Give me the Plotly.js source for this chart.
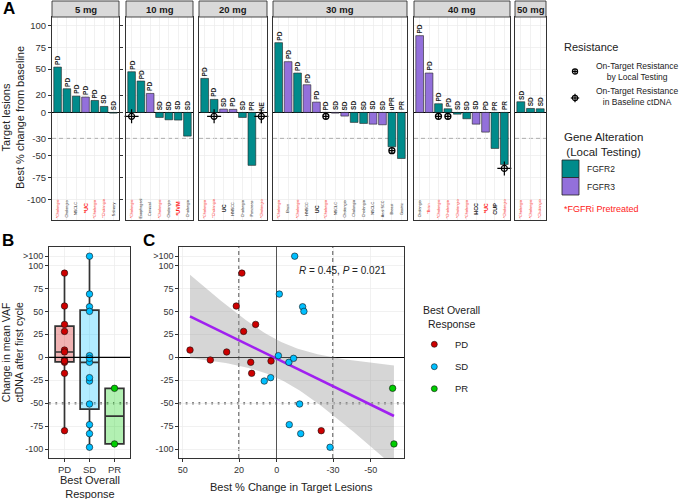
<!DOCTYPE html>
<html><head><meta charset="utf-8">
<script src="https://cdn.plot.ly/plotly-3.0.1.min.js"></script>
<style>html,body{margin:0;padding:0;background:#fff}#chart{width:680px;height:499px}</style>
</head><body><div id="chart"></div>
<script>
// ================= DATA =================
// Panel A: best % change in target lesions, by dose level
const doseLabels = ['5 mg', '10 mg', '20 mg', '30 mg', '40 mg', '50 mg'];

const change5  = [52.3, 27.3, 18.8, 17.7, 13.8, 6.9, -0.8];
const resp5    = ['PD', 'PD', 'PD', 'PD', 'PD', 'SD', 'SD'];
const gene5    = ['FGFR2', 'FGFR2', 'FGFR2', 'FGFR3', 'FGFR2', 'FGFR2', 'FGFR2'];
const tumor5   = ['*Cholangio', 'Cholangio', 'NSCLC', '*UC', '*Cholangio', '*Cholangio', 'Salivary'];
const resist5  = ['', '', '', '', '', '', ''];

const change10 = [46.9, 36.2, 21.9, -5.8, -8.5, -8.8, -27.3];
const resp10   = ['PD', 'PD', 'PD', 'SD', 'SD', 'SD', 'SD'];
const gene10   = ['FGFR2', 'FGFR2', 'FGFR3', 'FGFR2', 'FGFR2', 'FGFR2', 'FGFR2'];
const tumor10  = ['*Cholangio', 'Esophageal', 'Cervical', '*Cholangio', 'Cholangio', '*UVM', 'Cholangio'];
const resist10 = ['ctDNA', '', '', '', '', '', ''];

const change20 = [39.2, 15.0, 3.8, 3.5, -5.8, -61.0, 0];
const resp20   = ['PD', 'PD', 'SD', 'PD', 'SD', 'PR', 'NE'];
const gene20   = ['FGFR2', 'FGFR2', 'FGFR3', 'FGFR3', 'FGFR2', 'FGFR2', 'FGFR2'];
const tumor20  = ['*Cholangio', '*Cholangio', 'UC', 'HNSCC', 'Cholangio', 'Pancreas', '*Cholangio'];
const resist20 = ['', 'ctDNA', '', '', '', '', 'ctDNA'];

const change30 = [80.4, 58.5, 45.4, 31.9, 11.9, 0, -0.8, -4.2, -11.5, -12.7, -13.5, -14.2, -39.6, -53.1];
const resp30   = ['PD', 'PD', 'PD', 'PD', 'PD', 'PD', 'SD', 'SD', 'SD', 'SD', 'SD', 'SD', 'uPR', 'PR'];
const gene30   = ['FGFR2', 'FGFR3', 'FGFR2', 'FGFR3', 'FGFR3', 'FGFR2', 'FGFR3', 'FGFR3', 'FGFR2', 'FGFR2', 'FGFR3', 'FGFR3', 'FGFR2', 'FGFR2'];
const tumor30  = ['*Cholangio', 'Brain', '*Cholangio', 'HNSCC', 'UC', '*Cholangio', 'NSCLC', 'Cholangio', 'Cholangio', 'Cholangio', 'NSCLC', 'Anal SCC', 'Breast', 'Gastric'];
const resist30 = ['', '', '', '', '', 'local', '', '', '', '', '', '', 'local', ''];

const change40 = [88.5, 45.4, 10.0, 4.2, -2.0, -7.3, -13.5, -22.7, -41.5, -60.0];
const resp40   = ['PD', 'PD', 'PD', 'PD', 'SD', 'SD', 'SD', 'PD', 'PR', 'PR'];
const gene40   = ['FGFR3', 'FGFR3', 'FGFR2', 'FGFR2', 'FGFR2', 'FGFR2', 'FGFR3', 'FGFR3', 'FGFR2', 'FGFR2'];
const tumor40  = ['Cholangio', '*Brain', '*Cholangio', '*Cholangio', '*Cholangio', '*Cholangio', 'HCC', '*UC', 'CUP', '*Cholangio'];
const resist40 = ['', '', 'local', 'local', '', '', '', '', '', 'ctDNA'];

const change50 = [12.3, 4.6, 4.2];
const resp50   = ['SD', 'SD', 'SD'];
const gene50   = ['FGFR2', 'FGFR2', 'FGFR2'];
const tumor50  = ['*Cholangio', '*Cholangio', '*Cholangio'];
const resist50 = ['', '', ''];

const yTicksA = [100, 75, 50, 20, 0, -30, -50, -75, -100];

// Panels B and C: best % change in target lesions (x) vs change in mean VAF ctDNA (y), by best overall response
const responseCats = ['PD', 'SD', 'PR'];
const pdLesion = [46.1, 35.3, 26.6, 21.5, 17.6, 11.2, 13.8, 13.3, 3.0, 18.5, -23.7];
const pdVaf    = [7.9, -2.9, 5.8, 55.8, 28.2, 35.8, -5.4, -17.4, -4.0, 91.6, -79.8];
const sdLesion = [-9.6, -1.4, -13.8, -14.5, -0.9, -6.5, -9.0, 6.6, 3.2, -12.2, -6.7, -12.8, -28.4];
const sdVaf    = [110, 68.8, 55, 50, 1.8, -5.4, -1.1, -25.8, -22.1, -50.8, -73.2, -83, -97.8];
const prLesion = [-61.7, -62.4];
const prVaf    = [-33.7, -94.2];

const yTicksBC = [-100, -75, -50, -25, 0, 25, 50, 75, 100, 110];
const yTickTextBC = ['-100', '-75', '-50', '-25', '0', '25', '50', '75', '100', '>100'];
const xTicksC = [50, 20, 0, -30, -50];
const corrLabel = '<i>R</i> = 0.45, <i>P</i> = 0.021';

// ================= STYLE / LAYOUT =================
const W = 680, H = 499;
const px = v => v / W, py = v => 1 - v / H;
const FONT = 'Liberation Sans, Arial, Helvetica, sans-serif';
const geneColors = {FGFR2: '#008B8B', FGFR3: '#9370DB'};
const respColors = {PD: '#CD0000', SD: '#00BFFF', PR: '#00CD00'};
const boxFills = {PD: 'rgba(205,0,0,0.3)', SD: 'rgba(0,191,255,0.3)', PR: 'rgba(0,205,0,0.3)'};
const DOTS = '1.8px,4.6px';
const DASHES = '4px,3px';

const panelsA = [
  {change: change5,  resp: resp5,  gene: gene5,  tumor: tumor5,  resist: resist5},
  {change: change10, resp: resp10, gene: gene10, tumor: tumor10, resist: resist10},
  {change: change20, resp: resp20, gene: gene20, tumor: tumor20, resist: resist20},
  {change: change30, resp: resp30, gene: gene30, tumor: tumor30, resist: resist30},
  {change: change40, resp: resp40, gene: gene40, tumor: tumor40, resist: resist40},
  {change: change50, resp: resp50, gene: gene50, tumor: tumor50, resist: resist50}
];
const domA = [[52, 119], [126, 193], [199, 267], [273, 407], [414, 510], [515, 546]];

const traces = [];
const annotations = [];
const shapes = [];
const layout = {
  width: W, height: H, margin: {l: 0, r: 0, t: 0, b: 0},
  paper_bgcolor: '#fff', plot_bgcolor: '#fff',
  font: {family: FONT, color: '#222', size: 10},
  showlegend: false,
  bargap: 0,
  yaxis: {
    domain: [py(220), py(17)], range: [-124, 110], anchor: 'x',
    tickvals: yTicksA, ticktext: yTicksA.map(String),
    ticks: 'outside', ticklen: 3, tickcolor: '#333', tickfont: {size: 9.5, color: '#333'},
    showgrid: true, gridcolor: '#ebebeb', gridwidth: 0.7,
    zeroline: true, zerolinecolor: '#000', zerolinewidth: 1,
    showline: true, mirror: 'all', linecolor: '#333', linewidth: 1, fixedrange: true
  }
};

panelsA.forEach((d, i) => {
  const ax = i === 0 ? 'x' : 'x' + (i + 1);
  const axKey = i === 0 ? 'xaxis' : 'xaxis' + (i + 1);
  const n = d.change.length;
  const idx = d.change.map((_, k) => k + 1);
  layout[axKey] = {
    domain: [px(domA[i][0]), px(domA[i][1])], range: [0.4, n + 0.6], anchor: 'y',
    tickvals: idx, showticklabels: false, ticks: '',
    showgrid: true, gridcolor: '#ebebeb', gridwidth: 0.7, zeroline: false,
    showline: true, mirror: true, linecolor: '#333', linewidth: 1, fixedrange: true
  };
  traces.push({
    type: 'bar', x: idx, y: d.change, xaxis: ax, yaxis: 'y', width: 0.82,
    marker: {color: d.gene.map(g => geneColors[g]), line: {color: '#222', width: 0.6}},
    hoverinfo: 'skip', showlegend: false
  });
  // resistance markers
  const locX = [], locY = [], ctX = [], ctY = [];
  d.resist.forEach((r, k) => {
    const yy = Math.min(d.change[k], 0) - 4.5;
    if (r === 'local') { locX.push(k + 1); locY.push(yy); }
    if (r === 'ctDNA') { ctX.push(k + 1); ctY.push(yy); }
  });
  if (locX.length) traces.push({type: 'scatter', mode: 'markers', x: locX, y: locY, xaxis: ax, yaxis: 'y',
    marker: {symbol: 'circle-cross-open', size: 6, color: '#000', line: {width: 1.3, color: '#000'}}, hoverinfo: 'skip', cliponaxis: false});
  if (ctX.length) {
    traces.push({type: 'scatter', mode: 'markers', x: ctX, y: ctY, xaxis: ax, yaxis: 'y',
      marker: {symbol: 'circle-open', size: 6, color: '#000', line: {width: 1.2, color: '#000'}}, hoverinfo: 'skip', cliponaxis: false});
    traces.push({type: 'scatter', mode: 'markers', x: ctX, y: ctY, xaxis: ax, yaxis: 'y',
      marker: {symbol: 'cross-thin-open', size: 10, color: '#000', line: {width: 1.2, color: '#000'}}, hoverinfo: 'skip', cliponaxis: false});
  }
  // response labels
  d.resp.forEach((r, k) => {
    const base = Math.max(d.change[k], 0);
    annotations.push({xref: ax, yref: 'y', x: k + 1, y: base + 2.5 + r.length * 2.6, text: r, textangle: -90,
      showarrow: false, xanchor: 'center', yanchor: 'middle', font: {size: 6.5, color: '#222', weight: 'bold'}});
  });
  // tumor type labels
  d.tumor.forEach((t, k) => {
    const red = t.startsWith('*');
    const short = t.replace('*', '').length <= 3;
    annotations.push({xref: ax, yref: 'y', x: k + 1, y: -111, text: t, textangle: -90,
      showarrow: false, xanchor: 'center', yanchor: 'middle',
      font: {size: short ? 5.5 : 3.8, color: red ? '#ff1a1a' : '#222', weight: short ? 'bold' : 'normal'}});
  });
  // dashed -30 line
  shapes.push({type: 'line', xref: ax + ' domain', yref: 'y', x0: 0, x1: 1, y0: -30, y1: -30,
    line: {color: '#333', width: 1, dash: DASHES}, layer: 'below'});
  // facet strip
  shapes.push({type: 'rect', xref: ax + ' domain', yref: 'paper', x0: 0, x1: 1, y0: py(17), y1: py(1),
    fillcolor: '#d9d9d9', line: {color: '#333', width: 0.9}});
  annotations.push({xref: ax + ' domain', yref: 'paper', x: 0.5, y: py(9), text: doseLabels[i], showarrow: false,
    xanchor: 'center', yanchor: 'middle', font: {size: 9.5, color: '#1a1a1a', weight: 'bold'}});
});

// ---------- Panel B ----------
layout.xaxis7 = {
  domain: [px(49), px(130)], anchor: 'y2', type: 'category', categoryorder: 'array', categoryarray: responseCats,
  range: [-0.62, 2.62], ticks: 'outside', ticklen: 3, tickcolor: '#333', tickfont: {size: 9.5, color: '#333'},
  showgrid: true, gridcolor: '#ebebeb', gridwidth: 0.7, showline: true, mirror: true, linecolor: '#333', linewidth: 1, fixedrange: true
};
layout.yaxis2 = {
  domain: [py(458), py(247)], anchor: 'x7', range: [-109.5, 120],
  tickvals: yTicksBC, ticktext: yTickTextBC, ticks: 'outside', ticklen: 3, tickcolor: '#333', tickfont: {size: 9, color: '#333'},
  showgrid: true, gridcolor: '#ebebeb', gridwidth: 0.7, zeroline: false,
  showline: true, mirror: true, linecolor: '#333', linewidth: 1, fixedrange: true
};
const vafByResp = {PD: pdVaf, SD: sdVaf, PR: prVaf};
const lesionByResp = {PD: pdLesion, SD: sdLesion, PR: prLesion};
responseCats.forEach(c => {
  traces.push({type: 'box', x: vafByResp[c].map(() => c), y: vafByResp[c], xaxis: 'x7', yaxis: 'y2',
    fillcolor: boxFills[c], line: {color: '#333', width: 1.7}, boxpoints: false, whiskerwidth: 0, width: 0.75,
    hoverinfo: 'skip', showlegend: false});
});
responseCats.forEach(c => {
  traces.push({type: 'scatter', mode: 'markers', x: vafByResp[c].map(() => c), y: vafByResp[c], xaxis: 'x7', yaxis: 'y2',
    marker: {size: 6.5, color: respColors[c], line: {color: '#111', width: 0.6}}, hoverinfo: 'skip', cliponaxis: false});
});
shapes.push({type: 'line', xref: 'x7 domain', yref: 'y2', x0: 0, x1: 1, y0: 0, y1: 0,
  line: {color: '#000', width: 1.3}, layer: 'above'});
shapes.push({type: 'line', xref: 'x7 domain', yref: 'y2', x0: 0, x1: 1, y0: -50, y1: -50,
  line: {color: '#000', width: 1.8, dash: DOTS}, layer: 'below'});

// ---------- Panel C ----------
layout.xaxis8 = {
  domain: [px(179.3), px(404.3)], anchor: 'y3', range: [51.8, -67.9],
  tickvals: xTicksC, ticktext: xTicksC.map(String), ticks: 'outside', ticklen: 3, tickcolor: '#333', tickfont: {size: 9, color: '#333'},
  showgrid: true, gridcolor: '#ebebeb', gridwidth: 0.7, zeroline: true, zerolinecolor: '#555', zerolinewidth: 1.3,
  showline: true, mirror: true, linecolor: '#333', linewidth: 1, fixedrange: true
};
layout.yaxis3 = {
  domain: [py(458), py(247)], anchor: 'x8', range: [-109.5, 120],
  tickvals: yTicksBC, ticktext: yTickTextBC, ticks: 'outside', ticklen: 3, tickcolor: '#333', tickfont: {size: 9, color: '#333'},
  showgrid: true, gridcolor: '#ebebeb', gridwidth: 0.7, zeroline: true, zerolinecolor: '#000', zerolinewidth: 1.3,
  showline: true, mirror: true, linecolor: '#333', linewidth: 1, fixedrange: true
};
// linear fit with 95% confidence band, computed from the data
const allX = pdLesion.concat(sdLesion, prLesion);
const allY = pdVaf.concat(sdVaf, prVaf);
const n = allX.length;
const mx = allX.reduce((a, b) => a + b, 0) / n;
const my = allY.reduce((a, b) => a + b, 0) / n;
let sxx = 0, sxy = 0;
allX.forEach((x, i) => { sxx += (x - mx) * (x - mx); sxy += (x - mx) * (allY[i] - my); });
const slope = sxy / sxx, icpt = my - slope * mx;
let sse = 0;
allX.forEach((x, i) => { const r = allY[i] - (icpt + slope * x); sse += r * r; });
const sres = Math.sqrt(sse / (n - 2));
const tq = 2.064; // t(0.975, df = 24)
const xmin = Math.min(...allX), xmax = Math.max(...allX);
const gx = [], gFit = [], gUp = [], gLo = [];
for (let k = 0; k <= 80; k++) {
  const x = xmin + (xmax - xmin) * k / 80;
  const f = icpt + slope * x;
  const se = sres * Math.sqrt(1 / n + (x - mx) * (x - mx) / sxx);
  gx.push(x); gFit.push(f); gUp.push(f + tq * se); gLo.push(f - tq * se);
}
traces.push({type: 'scatter', mode: 'lines', x: gx.concat(gx.slice().reverse()), y: gUp.concat(gLo.slice().reverse()),
  xaxis: 'x8', yaxis: 'y3', fill: 'toself', fillcolor: 'rgba(153,153,153,0.4)', line: {width: 0}, hoverinfo: 'skip'});
traces.push({type: 'scatter', mode: 'lines', x: gx, y: gFit, xaxis: 'x8', yaxis: 'y3',
  line: {color: '#A020F0', width: 2.6}, hoverinfo: 'skip'});
responseCats.forEach(c => {
  traces.push({type: 'scatter', mode: 'markers', x: lesionByResp[c], y: vafByResp[c], xaxis: 'x8', yaxis: 'y3',
    marker: {size: 6.5, color: respColors[c], line: {color: '#111', width: 0.6}}, hoverinfo: 'skip', cliponaxis: false});
});
shapes.push({type: 'line', xref: 'x8 domain', yref: 'y3', x0: 0, x1: 1, y0: -50, y1: -50,
  line: {color: '#000', width: 1.8, dash: DOTS}, layer: 'below'});
[20, -30].forEach(v => shapes.push({type: 'line', xref: 'x8', yref: 'y3 domain', x0: v, x1: v, y0: 0, y1: 1,
  line: {color: '#000', width: 1.1, dash: DASHES}, layer: 'below'}));
annotations.push({xref: 'x8', yref: 'y3', x: -10.6, y: 94, text: corrLabel, showarrow: false,
  xanchor: 'left', yanchor: 'middle', font: {size: 10, color: '#222'}});

// ---------- titles & panel letters ----------
const ann = (x, y, text, opts) => annotations.push(Object.assign({xref: 'paper', yref: 'paper', x: px(x), y: py(y), text: text,
  showarrow: false, xanchor: 'center', yanchor: 'middle'}, opts));
ann(9, 8, 'A', {font: {size: 17, weight: 'bold', color: '#000'}});
ann(8, 241, 'B', {font: {size: 17, weight: 'bold', color: '#000'}});
ann(149, 241, 'C', {font: {size: 17, weight: 'bold', color: '#000'}});
ann(13, 118, 'Target lesions<br>Best % change from baseline', {textangle: -90, font: {size: 11, color: '#222'}});
ann(12.5, 352, 'Change in mean VAF<br>ctDNA after first cycle', {textangle: -90, font: {size: 10.5, color: '#222'}});
ann(90, 487, 'Best Overall<br>Response', {font: {size: 11, color: '#222'}});
ann(291.7, 486.7, 'Best % Change in Target Lesions', {font: {size: 11, color: '#222'}});

// ---------- legends ----------
ann(562, 47, 'Resistance', {xanchor: 'left', font: {size: 11, color: '#222'}});
ann(594, 71, 'On-Target Resistance<br>by Local Testing', {xanchor: 'left', font: {size: 8.5, color: '#222'}});
ann(594, 97, 'On-Target Resistance<br>in Baseline ctDNA', {xanchor: 'left', font: {size: 8.5, color: '#222'}});
// legend keys for resistance symbols
const keyCircle = (cx, cy, r, arm) => {
  shapes.push({type: 'circle', xref: 'paper', yref: 'paper', x0: px(cx - r), x1: px(cx + r), y0: py(cy + r), y1: py(cy - r), line: {color: '#000', width: 1.2}});
  shapes.push({type: 'line', xref: 'paper', yref: 'paper', x0: px(cx - arm), x1: px(cx + arm), y0: py(cy), y1: py(cy), line: {color: '#000', width: 1.2}});
  shapes.push({type: 'line', xref: 'paper', yref: 'paper', x0: px(cx), x1: px(cx), y0: py(cy - arm), y1: py(cy + arm), line: {color: '#000', width: 1.2}});
};
keyCircle(575, 71.5, 2.6, 2.6);
keyCircle(575, 98, 2.6, 4.2);

ann(562, 144, 'Gene Alteration<br>(Local Testing)', {xanchor: 'left', font: {size: 11.5, color: '#222'}});
shapes.push({type: 'rect', xref: 'paper', yref: 'paper', x0: px(562), x1: px(579), y0: py(177.5), y1: py(160), fillcolor: geneColors.FGFR2, line: {color: '#222', width: 0.8}});
shapes.push({type: 'rect', xref: 'paper', yref: 'paper', x0: px(562), x1: px(579), y0: py(195), y1: py(177.5), fillcolor: geneColors.FGFR3, line: {color: '#222', width: 0.8}});
ann(585, 169, 'FGFR2', {xanchor: 'left', font: {size: 8.5, color: '#222'}});
ann(585, 186.5, 'FGFR3', {xanchor: 'left', font: {size: 8.5, color: '#222'}});
ann(562, 209, '*FGFRi Pretreated', {xanchor: 'left', font: {size: 9, color: '#ff1a1a'}});

ann(421, 317, 'Best Overall<br>Response', {xanchor: 'left', font: {size: 10.5, color: '#222'}});
[['PD', 344.3], ['SD', 366.7], ['PR', 388.7]].forEach(([c, y]) => {
  shapes.push({type: 'circle', xref: 'paper', yref: 'paper', x0: px(431.3), x1: px(437.3), y0: py(y + 3), y1: py(y - 3),
    fillcolor: respColors[c], line: {color: '#111', width: 0.6}});
  ann(453, y, c, {xanchor: 'left', font: {size: 9.5, color: '#222'}});
});

layout.annotations = annotations;
layout.shapes = shapes;
Plotly.newPlot('chart', traces, layout, {staticPlot: true, displayModeBar: false});
</script>
</body></html>
